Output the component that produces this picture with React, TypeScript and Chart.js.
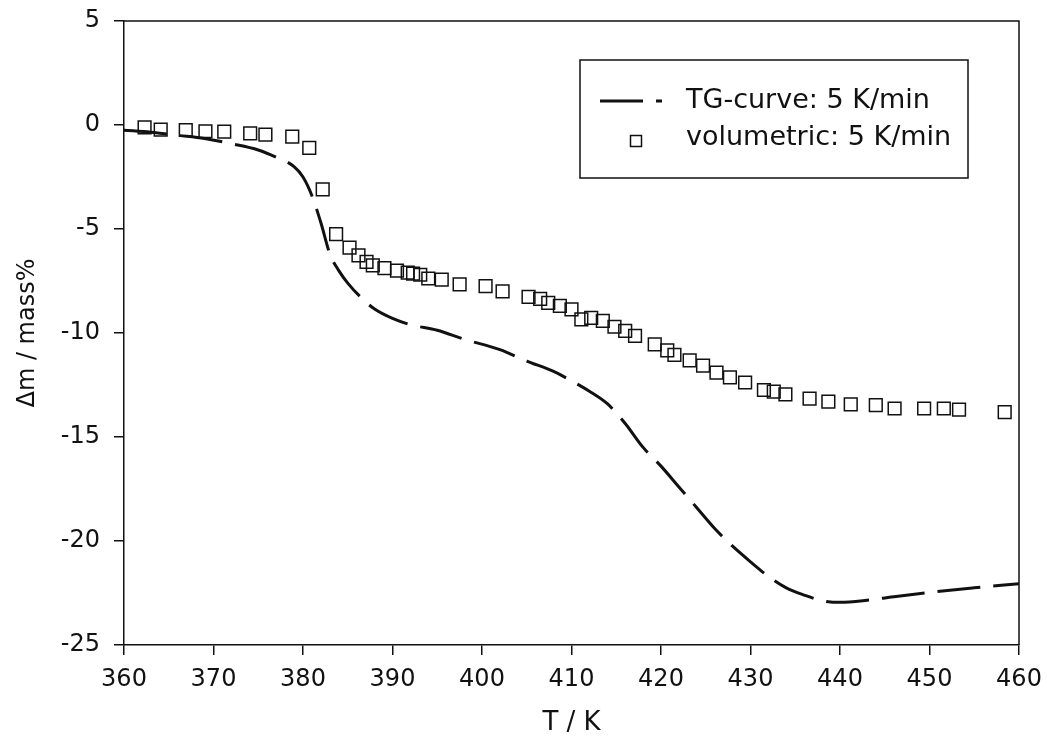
import React, { useEffect, useRef } from "react";
import { Chart, registerables } from "chart.js";

Chart.register(...registerables);

// ---- data ----
const tgTemperature = [360, 363, 366, 369, 372, 375, 377, 379, 380, 381, 382, 383, 384, 385, 386.5, 388, 390, 392, 395, 398, 402, 405, 408, 410, 412, 414, 416, 418, 420, 422, 424, 426, 428, 430, 432, 434, 436, 438, 440, 443, 446, 450, 455, 460];
const tgMassChange = [-0.25, -0.35, -0.5, -0.65, -0.9, -1.2, -1.55, -2.0, -2.5, -3.4, -4.7, -6.2, -7.0, -7.6, -8.3, -8.85, -9.3, -9.6, -9.87, -10.3, -10.8, -11.35, -11.85, -12.3, -12.8, -13.4, -14.35, -15.5, -16.4, -17.4, -18.4, -19.4, -20.25, -21.0, -21.7, -22.25, -22.6, -22.87, -22.95, -22.85, -22.68, -22.47, -22.25, -22.05];

const volTemperature = [362.3, 364.1, 366.9, 369.1, 371.2, 374.1, 375.8, 378.8, 380.7, 382.2, 383.7, 385.2, 386.2, 387.1, 387.8, 389.1, 390.5, 391.7, 392.3, 393.1, 394.0, 395.5, 397.5, 400.4, 402.3, 405.2, 406.5, 407.4, 408.7, 410.0, 411.1, 412.2, 413.5, 414.8, 416.0, 417.1, 419.3, 420.7, 421.5, 423.2, 424.7, 426.2, 427.7, 429.4, 431.5, 432.6, 433.9, 436.6, 438.7, 441.2, 444.0, 446.1, 449.4, 451.6, 453.3, 458.4];
const volMassChange = [-0.11, -0.22, -0.24, -0.3, -0.32, -0.4, -0.46, -0.56, -1.1, -3.1, -5.25, -5.9, -6.27, -6.58, -6.75, -6.88, -7.0, -7.1, -7.14, -7.2, -7.38, -7.43, -7.66, -7.75, -8.0, -8.26, -8.36, -8.55, -8.7, -8.86, -9.35, -9.27, -9.42, -9.7, -9.9, -10.14, -10.55, -10.84, -11.05, -11.32, -11.57, -11.9, -12.13, -12.38, -12.74, -12.82, -12.95, -13.16, -13.3, -13.43, -13.47, -13.63, -13.63, -13.63, -13.68, -13.8];

const xTickValues = [360, 370, 380, 390, 400, 410, 420, 430, 440, 450, 460];
const yTickValues = [-25, -20, -15, -10, -5, 0, 5];

const tgLabel = "TG-curve: 5 K/min";
const volLabel = "volumetric: 5 K/min";
const xTitle = "T / K";
const yTitle = "\u0394m / mass%";

const FONT = "'DejaVu Sans', 'Liberation Sans', Arial, sans-serif";
const INK = "#111";

const framePlugin = {
  id: "frame",
  afterDatasetsDraw(chart: any) {
    const { ctx, chartArea } = chart;
    ctx.save();
    ctx.strokeStyle = INK;
    ctx.lineWidth = 1.5;
    ctx.beginPath();
    ctx.moveTo(chartArea.left, chartArea.top);
    ctx.lineTo(chartArea.right, chartArea.top);
    ctx.lineTo(chartArea.right, chartArea.bottom);
    ctx.stroke();
    ctx.restore();
  },
};

const boxLegendPlugin = {
  id: "boxLegend",
  afterDraw(chart: any, _args: any, opts: any) {
    const { ctx } = chart;
    const { left, top, width, height, rowY, sampleX0, sampleX1, textX } = opts;
    ctx.save();
    ctx.fillStyle = "#fff";
    ctx.fillRect(left, top, width, height);
    ctx.strokeStyle = INK;
    ctx.lineWidth = 1.5;
    ctx.strokeRect(left, top, width, height);

    const ds = chart.data.datasets;
    ctx.font = `${opts.fontSize}px ${FONT}`;
    ctx.textBaseline = "middle";
    ctx.textAlign = "left";
    ds.forEach((d: any, i: number) => {
      const y = rowY[i];
      if (d.showLine) {
        ctx.strokeStyle = d.borderColor;
        ctx.lineWidth = d.borderWidth;
        ctx.setLineDash(d.borderDash || []);
        ctx.beginPath();
        ctx.moveTo(sampleX0, y);
        ctx.lineTo(sampleX1, y);
        ctx.stroke();
        ctx.setLineDash([]);
      } else {
        const s = opts.markerSize;
        ctx.strokeStyle = d.borderColor;
        ctx.lineWidth = d.borderWidth;
        ctx.strokeRect(opts.markerX - s / 2, y + 3 - s / 2, s, s);
      }
      ctx.fillStyle = INK;
      ctx.fillText(d.label, textX, y);
    });
    ctx.restore();
  },
};

export default function App() {
  const canvasRef = useRef<HTMLCanvasElement | null>(null);

  useEffect(() => {
    const canvas = canvasRef.current;
    if (!canvas) return;
    Chart.defaults.font.family = FONT;
    Chart.defaults.color = INK;

    const tgData = tgTemperature.map((t, i) => ({ x: t, y: tgMassChange[i] }));
    const volData = volTemperature.map((t, i) => ({ x: t, y: volMassChange[i] }));

    const chart = new Chart(canvas, {
      type: "scatter",
      data: {
        datasets: [
          {
            label: tgLabel,
            data: tgData,
            showLine: true,
            borderColor: INK,
            backgroundColor: INK,
            borderWidth: 3,
            borderDash: [43, 13],
            pointRadius: 0,
            cubicInterpolationMode: "monotone",
            order: 2,
          } as any,
          {
            label: volLabel,
            data: volData,
            showLine: false,
            pointStyle: "rect",
            pointRadius: 9,
            pointBorderWidth: 1.5,
            borderWidth: 1.5,
            borderColor: INK,
            backgroundColor: "rgba(0,0,0,0)",
            pointBackgroundColor: "rgba(0,0,0,0)",
            order: 1,
          } as any,
        ],
      },
      options: {
        animation: false,
        responsive: false,
        maintainAspectRatio: false,
        layout: { padding: { left: 0, top: 21, right: 28, bottom: 0 } },
        plugins: {
          legend: { display: false },
          tooltip: { enabled: false },
          boxLegend: {
            left: 580,
            top: 60,
            width: 388,
            height: 118,
            rowY: [101, 138],
            sampleX0: 600,
            sampleX1: 662,
            textX: 686,
            markerX: 636,
            markerSize: 11,
            fontSize: 27,
          },
        } as any,
        scales: {
          x: {
            type: "linear",
            min: 360,
            max: 460,
            afterBuildTicks: (scale: any) => {
              scale.ticks = xTickValues.map((v) => ({ value: v }));
            },
            afterFit: (scale: any) => {
              scale.height = 99;
              scale.paddingLeft = 0;
              scale.paddingRight = 0;
            },
            border: { display: true, color: INK, width: 1.5 },
            grid: { display: true, drawOnChartArea: false, drawTicks: true, tickLength: 10, color: INK, lineWidth: 1.5 },
            ticks: { font: { size: 24 }, color: INK, padding: 10, maxRotation: 0, autoSkip: false },
            title: { display: true, text: xTitle, font: { size: 26 }, color: INK, padding: { top: 0, bottom: 5 } },
          },
          y: {
            type: "linear",
            min: -25,
            max: 5,
            afterBuildTicks: (scale: any) => {
              scale.ticks = yTickValues.map((v) => ({ value: v }));
            },
            afterFit: (scale: any) => {
              scale.width = 124;
              scale.paddingTop = 0;
              scale.paddingBottom = 0;
            },
            border: { display: true, color: INK, width: 1.5 },
            grid: { display: true, drawOnChartArea: false, drawTicks: true, tickLength: 10, color: INK, lineWidth: 1.5 },
            ticks: { font: { size: 24 }, color: INK, padding: 14, autoSkip: false },
            title: { display: true, text: yTitle, font: { size: 24 }, color: INK, padding: { top: 13, bottom: 0 } },
          },
        },
      },
      plugins: [framePlugin, boxLegendPlugin],
    });

    return () => chart.destroy();
  }, []);

  return (
    <div style={{ position: "absolute", left: 0, top: 0, width: 1047, height: 744, background: "#fff" }}>
      <canvas ref={canvasRef} width={1047} height={744} style={{ display: "block", width: 1047, height: 744 }} />
    </div>
  );
}
